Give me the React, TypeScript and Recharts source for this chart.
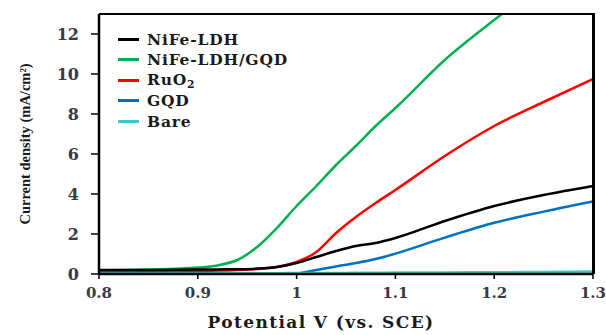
import React from "react";
import { LineChart, Line, XAxis, YAxis, Legend, Label } from "recharts";

const potentials = [0.8, 0.85, 0.9, 0.92, 0.94, 0.96, 0.98, 1.0, 1.02, 1.04, 1.06, 1.08, 1.1, 1.15, 1.2, 1.25, 1.3];
const nifeLdh =    [0.2, 0.2, 0.22, 0.23, 0.24, 0.27, 0.35, 0.55, 0.85, 1.15, 1.4, 1.55, 1.8, 2.65, 3.4, 3.95, 4.4];
const nifeLdhGqd = [0.18, 0.22, 0.32, 0.43, 0.7, 1.35, 2.3, 3.4, 4.4, 5.45, 6.4, 7.4, 8.3, 10.7, 12.7, 14.6, 16.4];
const ruO2 =       [0.1, 0.12, 0.15, 0.17, 0.2, 0.25, 0.35, 0.6, 1.1, 2.05, 2.85, 3.55, 4.2, 5.9, 7.4, 8.6, 9.75];
const gqd =        [0.02, 0.02, 0.02, 0.02, 0.02, 0.02, 0.02, 0.03, 0.2, 0.38, 0.55, 0.75, 1.02, 1.82, 2.56, 3.12, 3.63];
const bare =       [0.03, 0.03, 0.03, 0.03, 0.04, 0.04, 0.04, 0.05, 0.05, 0.05, 0.06, 0.06, 0.07, 0.08, 0.09, 0.1, 0.12];

const xTicks = [0.8, 0.9, 1, 1.1, 1.2, 1.3];
const yTicks = [0, 2, 4, 6, 8, 10, 12];
const xDomain = [0.8, 1.3];
const yDomain = [0, 13];

const seriesNames = ["NiFe-LDH", "NiFe-LDH/GQD", "RuO2", "GQD", "Bare"];
const seriesKeys = ["nife", "nifegqd", "ruo2", "gqd", "bare"];
const seriesColors = ["#000000", "#00b050", "#ff0000", "#0070c0", "#3cc8c8"];
const seriesValues = [nifeLdh, nifeLdhGqd, ruO2, gqd, bare];
const drawOrder = [1, 2, 3, 0, 4];

const data = potentials.map((v, i) => {
  const row: Record<string, number> = { v };
  seriesKeys.forEach((k, s) => {
    row[k] = seriesValues[s][i];
  });
  return row;
});

const WIDTH = 606;
const HEIGHT = 335;
const MARGIN = { top: 14, right: 13, bottom: 0, left: 0 };
const Y_AXIS_W = 99;
const X_AXIS_H = 61;

const WIDE = "'DejaVu Serif', 'Liberation Serif', serif";
const NARROW = "'Liberation Serif', 'Times New Roman', serif";
const TICK_FILL = "#3a3a44";

function renderName(name: string) {
  const m = name.match(/^(.*?)(\d+)$/);
  if (m) {
    return (
      <span>
        {m[1]}
        <sub style={{ fontSize: "0.7em", verticalAlign: "-0.3em" }}>{m[2]}</sub>
      </span>
    );
  }
  return <span>{name}</span>;
}

const LegendContent = () => (
  <div style={{ fontFamily: WIDE, fontWeight: "bold", fontSize: 15.5, letterSpacing: 0.8, color: "#1a1a1a", whiteSpace: "nowrap" }}>
    {seriesNames.map((n, i) => (
      <div key={n} style={{ display: "flex", alignItems: "center", height: 20.5 }}>
        <span style={{ display: "inline-block", width: 21, height: 3, background: seriesColors[i], marginRight: 8 }} />
        {renderName(n)}
      </div>
    ))}
  </div>
);

const XTitle = (props: any) => {
  const vb = props.viewBox || { x: 99, y: 274, width: 494, height: 61 };
  return (
    <text
      x={vb.x + vb.width / 2 - 25}
      y={vb.y + vb.height - 7}
      textAnchor="middle"
      style={{ fill: "#1a1a1a", fontFamily: WIDE, fontWeight: "bold", fontSize: 17, letterSpacing: 1.4 }}
    >
      Potential V (vs. SCE)
    </text>
  );
};

export default function App() {
  const plotLeft = MARGIN.left + Y_AXIS_W;
  const plotTop = MARGIN.top;
  const plotW = WIDTH - MARGIN.right - plotLeft;
  const plotH = HEIGHT - MARGIN.bottom - X_AXIS_H - plotTop;
  return (
    <div style={{ position: "relative", width: WIDTH, height: HEIGHT, background: "#fff" }}>
      <style>{`body{margin:0;background:#fff}`}</style>
      <LineChart width={WIDTH} height={HEIGHT} data={data} margin={MARGIN}>
        <XAxis
          dataKey="v"
          type="number"
          domain={xDomain}
          ticks={xTicks}
          height={X_AXIS_H}
          tickSize={5}
          tickMargin={8}
          axisLine={{ stroke: "#000", strokeWidth: 2.5 }}
          tickLine={{ stroke: "#000", strokeWidth: 1.5 }}
          tick={{ fill: TICK_FILL, fontFamily: WIDE, fontWeight: "bold", fontSize: 15 }}
          tickFormatter={(v: number) => String(v)}
        >
          <Label content={XTitle} />
        </XAxis>
        <YAxis
          type="number"
          domain={yDomain}
          ticks={yTicks}
          allowDataOverflow
          width={Y_AXIS_W}
          tickSize={8}
          tickMargin={12}
          axisLine={{ stroke: "#000", strokeWidth: 2.5 }}
          tickLine={{ stroke: "#000", strokeWidth: 1.5 }}
          tick={{ fill: TICK_FILL, fontFamily: WIDE, fontWeight: "bold", fontSize: 16 }}
        >
          <Label
            value="Current density (mA/cm²)"
            angle={-90}
            position="insideLeft"
            offset={25}
            style={{ textAnchor: "middle", fill: "#1a1a1a", fontFamily: NARROW, fontWeight: "bold", fontSize: 14.5 }}
          />
        </YAxis>
        {drawOrder.map((s) => (
          <Line
            key={seriesKeys[s]}
            dataKey={seriesKeys[s]}
            name={seriesNames[s]}
            type="monotone"
            stroke={seriesColors[s]}
            strokeWidth={2.5}
            dot={false}
            activeDot={false}
            isAnimationActive={false}
          />
        ))}
        <Legend
          layout="vertical"
          align="center"
          verticalAlign="middle"
          wrapperStyle={{ left: 118, top: 29, width: 240 }}
          content={LegendContent}
        />
      </LineChart>
      <div
        style={{
          position: "absolute",
          left: plotLeft,
          top: plotTop - 1,
          width: plotW + 1.5,
          height: plotH + 1,
          boxSizing: "border-box",
          borderTop: "2.5px solid #000",
          borderRight: "3px solid #000",
          pointerEvents: "none",
        }}
      />
    </div>
  );
}
